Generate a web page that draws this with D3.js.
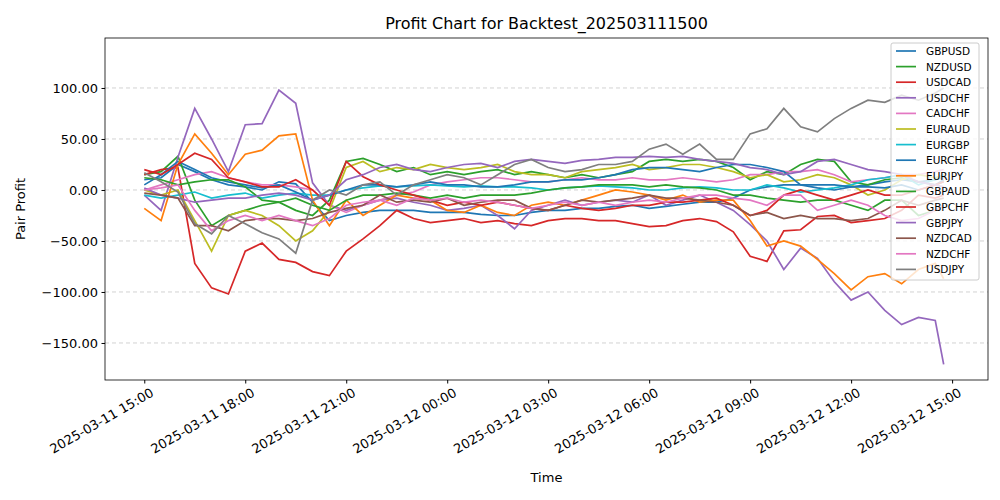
<!DOCTYPE html>
<html><head><meta charset="utf-8">
<script src="https://cdn.jsdelivr.net/npm/d3@7"></script>
<style>body{margin:0;background:#fff}text{font-family:"DejaVu Sans",sans-serif}</style>
</head><body><svg id="c" width="1000" height="500"></svg>
<script>
const names=["GBPUSD","NZDUSD","USDCAD","USDCHF","CADCHF","EURAUD","EURGBP","EURCHF","EURJPY","GBPAUD","GBPCHF","GBPJPY","NZDCAD","NZDCHF","USDJPY"];
const colors=["#1f77b4","#2ca02c","#d62728","#9467bd","#e377c2","#bcbd22","#17becf","#1f77b4","#ff7f0e","#2ca02c","#d62728","#9467bd","#8c564b","#e377c2","#7f7f7f"];
const GBPUSD=[10,12,25,18,10,5,3,0,8,6,-12,-30,-25,-22,-20,-20,-20,-22,-22,-22,-24,-25,-25,-22,-20,-20,-18,-18,-16,-15,-18,-16,-14,-12,-12,-8,0,3,5,5,2,0,3,5,8,10,8,10,12];
const NZDUSD=[15,18,33,-10,-35,-25,-20,-15,-12,-20,-25,-10,28,31,25,18,22,15,18,15,18,20,15,18,15,12,15,12,15,18,28,30,28,30,28,22,10,18,15,25,30,28,8,5,10,12,8,5,8];
const USDCAD=[15,20,22,-72,-96,-102,-60,-52,-68,-71,-80,-84,-60,-48,-35,-20,-28,-32,-30,-28,-32,-30,-33,-35,-30,-28,-28,-30,-30,-33,-36,-35,-30,-28,-31,-41,-65,-70,-40,-39,-26,-25,-32,-30,-28,-20,-5,-8,-5];
const USDCHF=[-5,-20,32,80,50,18,64,65,98,85,7,-15,-20,-15,-10,-8,-12,-15,-20,-18,-15,-25,-38,-20,-15,-10,-15,-12,-10,-12,-5,-15,-10,-5,-12,-20,-34,-50,-78,-57,-67,-90,-108,-100,-118,-132,-125,-128,-171];
const CADCHF=[0,5,10,15,18,12,8,5,5,3,0,-15,-22,-15,-10,-5,-2,5,8,10,12,12,10,8,8,10,12,10,10,12,10,10,12,10,8,10,15,15,18,18,20,15,8,10,12,15,15,18,20];
const EURAUD=[0,-5,0,-30,-60,-25,-20,-25,-35,-50,-40,-20,22,28,18,22,20,25,22,20,22,25,18,15,15,12,18,20,22,25,20,22,25,25,22,18,12,15,8,10,15,12,5,-5,0,10,15,12,15];
const EURGBP=[-5,-8,-5,-2,-8,-5,-3,-8,-5,-3,-5,-5,0,2,4,3,4,5,4,3,4,3,3,2,0,2,3,4,3,2,0,0,2,3,2,0,0,5,2,-2,0,2,5,10,12,15,5,10,15];
const EURCHF=[5,15,28,20,12,8,5,2,5,-2,-10,-5,0,5,5,3,5,8,5,5,3,3,5,8,8,10,10,12,15,20,22,22,20,18,22,25,25,22,18,5,5,5,3,3,2,5,0,5,10];
const EURJPY=[-18,-30,25,55,36,15,35,39,53,55,-10,-35,-10,-25,-15,-5,-8,-10,-20,-22,-15,-22,-25,-15,-12,-15,-10,-5,0,-2,-5,-10,-5,-12,-10,-10,-30,-55,-50,-55,-68,-82,-98,-85,-82,-92,-78,-72,-87];
const GBPAUD=[12,10,5,8,10,10,3,-10,-12,-8,-15,-20,-10,-5,-5,-3,-5,-8,-5,-8,-5,-5,-5,-3,0,2,3,5,5,5,3,5,3,2,0,-5,-5,-8,-10,-12,-10,-10,-15,-20,-10,-10,-25,-20,-15];
const GBPCHF=[20,15,25,36,30,12,8,3,3,10,0,-15,28,13,5,0,-5,-10,-15,-12,-15,-12,-15,-18,-20,-15,-18,-20,-18,-15,-15,-12,-12,-10,-8,-15,-25,-20,-5,0,-5,-10,-5,0,-5,-5,0,5,8];
const GBPJPY=[2,-5,-8,-12,-10,-8,-8,-5,-3,-5,-10,-5,10,15,22,25,20,18,22,25,26,22,28,30,28,26,29,30,32,32,33,32,33,30,28,26,22,20,15,18,28,30,25,20,18,15,8,5,3];
const NZDCAD=[-3,-5,-8,-35,-35,-40,-30,-28,-28,-30,-28,-22,-18,-15,-5,-12,-10,-12,-8,-15,-12,-10,-10,-18,-20,-15,-10,-12,-10,-8,-5,-8,-8,-10,-12,-15,-25,-22,-28,-25,-28,-28,-30,-28,-20,-10,-15,-10,-8];
const NZDCHF=[0,2,5,-20,-40,-30,-25,-30,-25,-30,-35,-28,-15,-12,-10,-15,-8,-10,-8,-12,-10,-12,-15,-18,-15,-12,-15,-12,-15,-12,-10,-12,-8,-5,-5,-8,-10,-15,-5,-5,-20,-15,-10,-15,-25,-30,-28,-20,-15];
const USDJPY=[17,8,-2,-33,-43,-25,-33,-42,-48,-62,-10,0,-5,5,8,-5,5,10,15,12,5,15,25,30,22,18,20,25,25,28,40,45,35,45,30,30,55,60,80,62,57,70,80,88,86,93,88,95,100];
const seriesVals=[GBPUSD,NZDUSD,USDCAD,USDCHF,CADCHF,EURAUD,EURGBP,EURCHF,EURJPY,GBPAUD,GBPCHF,GBPJPY,NZDCAD,NZDCHF,USDJPY];
const yTicks=[-150,-100,-50,0,50,100];
const start=new Date(2025,2,11,15,0);
const times=d3.range(48).map(i=>d3.timeMinute.offset(start,i*30)).concat([d3.timeMinute.offset(start,23*60+45)]);
const xTicks=d3.range(9).map(i=>d3.timeHour.offset(start,i*3));

const svg=d3.select("#c");
const L=105,R=988,T=38,B=380;
const x=d3.scaleTime().domain([d3.timeMinute.offset(start,-69.5),d3.timeMinute.offset(start,1504)]).range([L,R]);
const y=d3.scaleLinear().domain([-186.3,149]).range([B,T]);
svg.append("g").selectAll("line").data(yTicks).join("line").attr("x1",L).attr("x2",R)
 .attr("y1",d=>y(d)).attr("y2",d=>y(d)).attr("stroke","#b0b0b0").attr("stroke-dasharray","4,3").attr("stroke-width",0.8).attr("opacity",0.7);
const line=d3.line().x((d,i)=>x(times[i])).y(d=>y(d));
svg.append("g").selectAll("path").data(seriesVals).join("path").attr("d",line).attr("fill","none")
 .attr("stroke",(d,i)=>colors[i]).attr("stroke-width",1.7);
const ya=svg.append("g").attr("transform",`translate(${L},0)`).call(d3.axisLeft(y).tickValues(yTicks).tickFormat(d3.format(".2f")).tickSize(3.5).tickPadding(3.5));
const xa=svg.append("g").attr("transform",`translate(0,${B})`).call(d3.axisBottom(x).tickValues(xTicks).tickFormat(d3.timeFormat("%Y-%m-%d %H:%M")).tickSize(3.5).tickPadding(3));
[ya,xa].forEach(a=>{a.select(".domain").remove();a.selectAll("text").attr("font-size",13).attr("fill","#000").style("font-family","DejaVu Sans");a.selectAll("line").attr("stroke","#000")});
xa.selectAll("text").attr("text-anchor","end").attr("y",0).attr("dx","0.3em").attr("dy","1em").attr("transform","translate(0,6) rotate(-30)");
svg.append("rect").attr("x",L).attr("y",T).attr("width",R-L).attr("height",B-T).attr("fill","none").attr("stroke","#000").attr("stroke-width",0.8);
svg.append("text").attr("x",(L+R)/2).attr("y",29).attr("text-anchor","middle").attr("font-size",16).text("Profit Chart for Backtest_202503111500");
svg.append("text").attr("x",(L+R)/2).attr("y",482).attr("text-anchor","middle").attr("font-size",13).text("Time");
svg.append("text").attr("transform",`translate(25,${(T+B)/2}) rotate(-90)`).attr("text-anchor","middle").attr("font-size",13).text("Pair Profit");
const lg=svg.append("g").attr("transform","translate(891,43)");
lg.append("rect").attr("width",88).attr("height",237).attr("rx",2).attr("fill","#fff").attr("fill-opacity",0.8).attr("stroke","#ccc");
const it=lg.selectAll("g").data(names).join("g").attr("transform",(d,i)=>`translate(0,${8+i*15.6})`);
it.append("line").attr("x1",5).attr("x2",25).attr("stroke",(d,i)=>colors[i]).attr("stroke-width",1.7);
it.append("text").attr("x",35).attr("y",4).attr("font-size",10.5).text(d=>d);
</script></body></html>
